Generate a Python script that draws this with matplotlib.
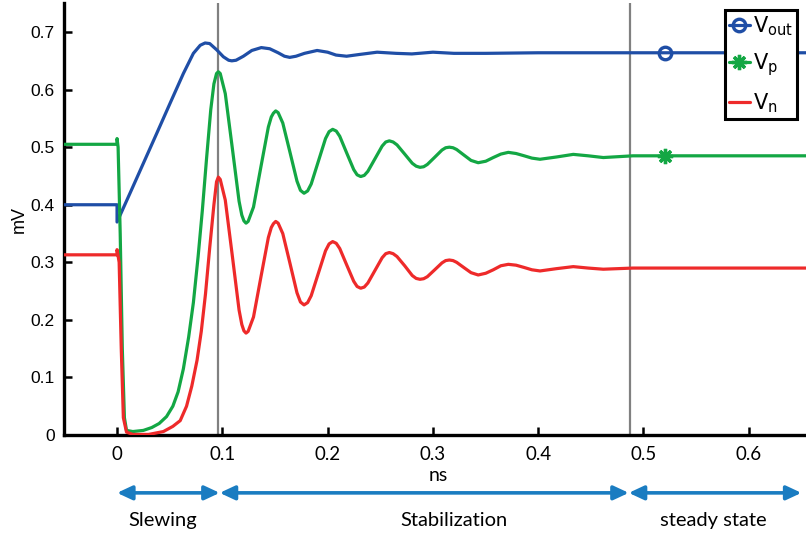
import numpy as np
import matplotlib
matplotlib.use("Agg")
import matplotlib.pyplot as plt

# values (time in ns, voltage in mV)
t_out = [-0.05, 0.0, 0.0, 0.0123, 0.025, 0.0377, 0.0503, 0.063, 0.0725, 0.079, 0.0836,
         0.088, 0.0947, 0.101, 0.106, 0.109, 0.113, 0.12, 0.128, 0.137, 0.145, 0.153,
         0.159, 0.164, 0.17, 0.178, 0.19, 0.2, 0.208, 0.218, 0.23, 0.247, 0.265, 0.28,
         0.3, 0.32, 0.35, 0.4, 0.52, 0.66]
v_out = [0.40, 0.40, 0.37, 0.42, 0.472, 0.524, 0.576, 0.628, 0.663, 0.677, 0.681,
         0.680, 0.669, 0.657, 0.651, 0.650, 0.651, 0.658, 0.668, 0.673, 0.671, 0.664,
         0.658, 0.656, 0.658, 0.663, 0.668, 0.665, 0.660, 0.658, 0.661, 0.665, 0.663, 0.662,
         0.665, 0.663, 0.663, 0.664, 0.664, 0.664]

t_p = [-0.05, 0.0, 0.0, 0.001, 0.003, 0.005, 0.007, 0.009, 0.015, 0.025, 0.033, 0.04,
       0.047, 0.053, 0.058, 0.063, 0.068, 0.0725, 0.077, 0.081, 0.085, 0.089, 0.092,
       0.0945, 0.0962, 0.098, 0.1028, 0.1094, 0.1159, 0.1185, 0.1205, 0.1225, 0.1245,
       0.1296, 0.1366, 0.1437, 0.1465, 0.1485, 0.1507, 0.153, 0.1574, 0.1642, 0.1709,
       0.1742, 0.1776, 0.181, 0.1844, 0.1912, 0.198, 0.2014, 0.2048, 0.2082, 0.2115,
       0.2181, 0.2248, 0.228, 0.2314, 0.2348, 0.2382, 0.245, 0.2518, 0.2552, 0.2586,
       0.2622, 0.2659, 0.2732, 0.2804, 0.2841, 0.2877, 0.2912, 0.2947, 0.3017, 0.3086,
       0.3121, 0.3156, 0.3191, 0.3225, 0.3293, 0.3362, 0.343, 0.3502, 0.3573, 0.3645,
       0.3716, 0.379, 0.3867, 0.394, 0.4017, 0.4175, 0.4333, 0.4475, 0.4618, 0.49,
       0.52, 0.66]
v_p = [0.505, 0.505, 0.515, 0.50, 0.35, 0.15, 0.03, 0.008, 0.006, 0.008, 0.013, 0.02,
       0.032, 0.05, 0.075, 0.115, 0.17, 0.23, 0.31, 0.39, 0.48, 0.565, 0.61,
       0.628, 0.631, 0.628, 0.593, 0.4995, 0.406, 0.382, 0.372, 0.368, 0.371,
       0.396, 0.4655, 0.535, 0.5525, 0.559, 0.563, 0.560, 0.542, 0.4915, 0.441,
       0.425, 0.420, 0.424, 0.436, 0.4755, 0.515, 0.527, 0.531, 0.528, 0.519,
       0.490, 0.461, 0.452, 0.449, 0.451, 0.458, 0.480, 0.502, 0.509, 0.511,
       0.509, 0.504, 0.488, 0.472, 0.467, 0.465, 0.466, 0.470, 0.4825, 0.495,
       0.499, 0.500, 0.499, 0.496, 0.4865, 0.477, 0.473, 0.4756, 0.482, 0.488,
       0.491, 0.489, 0.485, 0.481, 0.479, 0.483, 0.4875, 0.485, 0.482, 0.485,
       0.485, 0.485]

t_n = [-0.05, 0.0, 0.0, 0.002, 0.004, 0.006, 0.009, 0.015, 0.03, 0.044, 0.053, 0.06,
       0.066, 0.071, 0.076, 0.08, 0.084, 0.088, 0.092, 0.0945, 0.0962, 0.098, 0.1028,
       0.1094, 0.1159, 0.1185, 0.1205, 0.1225, 0.1245, 0.1296, 0.1366, 0.1437, 0.1465,
       0.1485, 0.1507, 0.153, 0.1574, 0.1642, 0.1709, 0.1742, 0.1776, 0.181, 0.1844,
       0.1912, 0.198, 0.2014, 0.2048, 0.2082, 0.2115, 0.2181, 0.2248, 0.228, 0.2314,
       0.2348, 0.2382, 0.245, 0.2518, 0.2552, 0.2586, 0.2622, 0.2659, 0.2732, 0.2804,
       0.2841, 0.2877, 0.2912, 0.2947, 0.3017, 0.3086, 0.3121, 0.3156, 0.3191, 0.3225,
       0.3293, 0.3362, 0.343, 0.3502, 0.3573, 0.3645, 0.3716, 0.379, 0.3867, 0.394,
       0.4017, 0.4175, 0.4333, 0.4475, 0.4618, 0.49, 0.66]
v_n = [0.313, 0.313, 0.322, 0.30, 0.15, 0.03, 0.005, 0.001, 0.001, 0.006, 0.015, 0.025,
       0.05, 0.085, 0.13, 0.18, 0.245, 0.325, 0.40, 0.44, 0.448, 0.444, 0.408,
       0.3125, 0.217, 0.192, 0.181, 0.177, 0.180, 0.205, 0.274, 0.343, 0.3605,
       0.367, 0.371, 0.368, 0.350, 0.2985, 0.247, 0.231, 0.226, 0.230, 0.242,
       0.281, 0.320, 0.332, 0.336, 0.333, 0.324, 0.2955, 0.267, 0.258, 0.255,
       0.257, 0.264, 0.286, 0.308, 0.315, 0.317, 0.315, 0.310, 0.294, 0.277,
       0.272, 0.2705, 0.2715, 0.275, 0.287, 0.299, 0.303, 0.304, 0.303, 0.300,
       0.291, 0.282, 0.278, 0.281, 0.287, 0.294, 0.2965, 0.295, 0.291, 0.287,
       0.285, 0.289, 0.2925, 0.290, 0.288, 0.290, 0.290]

t_marker = 0.52
phase_bounds = [0.0, 0.0975, 0.486, 0.65]
phase_names = ["Slewing", "Stabilization", "steady state"]
phase_label_x = [0.043, 0.32, 0.566]
x_ticks = [0, 0.1, 0.2, 0.3, 0.4, 0.5, 0.6]
y_ticks = [0, 0.1, 0.2, 0.3, 0.4, 0.5, 0.6, 0.7]
vlines = [0.096, 0.487]

c_out = "#1f4ea6"
c_p = "#13a744"
c_n = "#ee2a2a"

fig = plt.figure(figsize=(8.06, 5.35), dpi=100)
ax = fig.add_axes([0.0799, 0.1869, 0.9275, 0.807])

for xv in vlines:
    ax.axvline(xv, color="#808080", lw=1.6, zorder=1)

i_out = int(np.argmin(np.abs(np.array(t_out) - t_marker)))
i_p = int(np.argmin(np.abs(np.array(t_p) - t_marker)))

line_kw = dict(lw=2.3, solid_joinstyle="round", solid_capstyle="round", zorder=3)
ax.plot(t_out, v_out, color=c_out, marker="o", markevery=[i_out],
        ms=9, mfc="none", mew=2.4, label=r"V$_{\mathregular{out}}$", **line_kw)
ax.plot(t_p, v_p, color=c_p, marker=(8, 2, 0), markevery=[i_p],
        ms=11, mew=2.4, label=r"V$_{\mathregular{p}}$", **line_kw)
ax.plot(t_n, v_n, color=c_n, label=r"V$_{\mathregular{n}}$", **line_kw)

ax.set_xlim(-0.05, 0.66)
ax.set_ylim(0, 0.75)
ax.set_xticks(x_ticks)
ax.set_xticklabels(["0", "0.1", "0.2", "0.3", "0.4", "0.5", "0.6"],
                   fontfamily="Lato", fontsize=13.5)
ax.set_yticks(y_ticks)
ax.set_yticklabels(["0", "0.1", "0.2", "0.3", "0.4", "0.5", "0.6", "0.7"],
                   fontfamily="Liberation Sans", fontsize=12.5)
ax.tick_params(axis="both", direction="in", length=6, width=1.8, color="black")
ax.tick_params(axis="x", pad=8)
ax.tick_params(axis="y", pad=7)

for side in ["top", "right"]:
    ax.spines[side].set_visible(False)
for side in ["left", "bottom"]:
    ax.spines[side].set_linewidth(2.4)

ax.set_xlabel("ns", fontfamily="Lato", fontsize=14, labelpad=3)
ax.set_ylabel("mV", fontfamily="Liberation Sans", fontsize=13, labelpad=2)

# phase arrows below the axis
trans = ax.get_xaxis_transform()
for k in range(len(phase_names)):
    ax.annotate("", xy=(phase_bounds[k], -0.134), xytext=(phase_bounds[k + 1], -0.134),
                xycoords=trans, textcoords=trans, annotation_clip=False,
                arrowprops=dict(arrowstyle="<|-|>,head_length=0.9,head_width=0.42",
                                color="#1a7cc1", lw=2.6, shrinkA=0, shrinkB=0))
    ax.text(phase_label_x[k], -0.197, phase_names[k], transform=trans,
            ha="center", va="center", fontfamily="Lato", fontsize=14.5)

leg = ax.legend(loc="upper right", bbox_to_anchor=(0.98, 0.985), borderaxespad=0,
                fancybox=False, framealpha=1, edgecolor="black", fontsize=15,
                handlelength=1.0, handletextpad=0.15, labelspacing=0.65,
                borderpad=0.2)
leg.get_frame().set_linewidth(2.2)

fig.savefig("out.png", dpi=100)
